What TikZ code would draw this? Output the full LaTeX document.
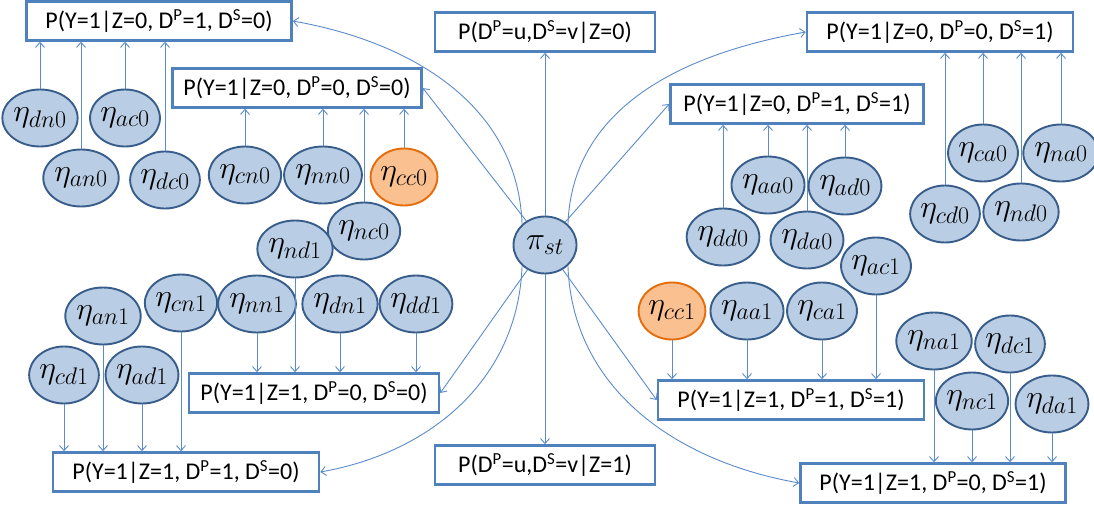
\RequirePackage{fix-cm}
\documentclass[tikz,border=0pt]{standalone}
\usepackage[no-math]{fontspec}
\setmainfont{Carlito}
\usetikzlibrary{shapes.geometric,arrows.meta}
\DeclareMathSizes{32}{32}{24}{18}
\definecolor{boxblue}{HTML}{4F81BD}
\definecolor{etafill}{HTML}{B9CDE5}
\definecolor{etaline}{HTML}{385D8A}
\definecolor{orfill}{HTML}{FAC090}
\definecolor{orline}{HTML}{E46C0A}
\definecolor{arrblue}{HTML}{5B8BCB}
\newcommand\DP{D\textsuperscript{P}}
\newcommand\DS{D\textsuperscript{S}}
\begin{document}
\begin{tikzpicture}[x=1pt,y=1pt,
  pbox/.style={draw=boxblue, line width=2.6pt, fill=white, inner xsep=1pt, inner ysep=0pt,
    minimum height=39pt, font=\fontsize{24}{28}\selectfont},
  eta/.style={ellipse, draw=etaline, line width=1.9pt, fill=etafill, minimum width=63pt,
    minimum height=57pt, inner sep=0pt, font=\fontsize{32}{32}\selectfont},
  etaor/.style={eta, draw=orline, fill=orfill},
  arr/.style={draw=arrblue, line width=0.9pt, -{Straight Barb[length=5pt,width=9pt]}}]
\useasboundingbox (0,0) rectangle (1094,507);

% boxes
\node[pbox, minimum width=265pt] (B1) at (159,486) {P(Y=1|Z=0, \DP=1, \DS=0)};
\node[pbox, minimum width=249pt] (B2) at (297,419) {P(Y=1|Z=0, \DP=0, \DS=0)};
\node[pbox, minimum width=220pt] (B3) at (545,475) {P(\DP=u,\DS=v|Z=0)};
\node[pbox, minimum width=266pt] (B4) at (940,475) {P(Y=1|Z=0, \DP=0, \DS=1)};
\node[pbox, minimum width=253pt] (B5) at (797,403) {P(Y=1|Z=0, \DP=1, \DS=1)};
\node[pbox, minimum width=250pt] (B6) at (314,114) {P(Y=1|Z=1, \DP=0, \DS=0)};
\node[pbox, minimum width=266pt] (B7) at (186,35) {P(Y=1|Z=1, \DP=1, \DS=0)};
\node[pbox, minimum width=220pt] (B8) at (545,42) {P(\DP=u,\DS=v|Z=1)};
\node[pbox, minimum width=266pt] (B9) at (791,107) {P(Y=1|Z=1, \DP=1, \DS=1)};
\node[pbox, minimum width=265pt] (B10) at (933,24) {P(Y=1|Z=1, \DP=0, \DS=1)};

% centre
\node[eta] (pi) at (545,262) {$\pi_{st}$};

% eta nodes, left
\node[eta] (dn0) at (40,389) {$\eta_{dn0}$};
\node[eta] (an0) at (81,329) {$\eta_{an0}$};
\node[eta] (ac0) at (125,389) {$\eta_{ac0}$};
\node[eta] (dc0) at (165,327) {$\eta_{dc0}$};
\node[eta] (cn0) at (245,332) {$\eta_{cn0}$};
\node[eta] (nn0) at (323,332) {$\eta_{nn0}$};
\node[etaor] (cc0) at (404,330) {$\eta_{cc0}$};
\node[eta] (nc0) at (364,276) {$\eta_{nc0}$};
\node[eta] (nd1) at (295,258) {$\eta_{nd1}$};
\node[eta] (nn1) at (257,203) {$\eta_{nn1}$};
\node[eta] (dn1) at (340,203) {$\eta_{dn1}$};
\node[eta] (dd1) at (416,203) {$\eta_{dd1}$};
\node[eta] (cn1) at (181,204) {$\eta_{cn1}$};
\node[eta] (an1) at (103,191) {$\eta_{an1}$};
\node[eta] (cd1) at (64,132) {$\eta_{cd1}$};
\node[eta] (ad1) at (142,132) {$\eta_{ad1}$};

% eta nodes, right
\node[eta] (aa0) at (768,322) {$\eta_{aa0}$};
\node[eta] (ad0) at (845,321) {$\eta_{ad0}$};
\node[eta] (dd0) at (723,270) {$\eta_{dd0}$};
\node[eta] (da0) at (807,267) {$\eta_{da0}$};
\node[eta] (ac1) at (876,241) {$\eta_{ac1}$};
\node[etaor] (cc1) at (672,196) {$\eta_{cc1}$};
\node[eta] (aa1) at (747,196) {$\eta_{aa1}$};
\node[eta] (ca1) at (822,196) {$\eta_{ca1}$};
\node[eta] (ca0) at (983,354) {$\eta_{ca0}$};
\node[eta] (na0) at (1061,354) {$\eta_{na0}$};
\node[eta] (cd0) at (945,293) {$\eta_{cd0}$};
\node[eta] (nd0) at (1021,295) {$\eta_{nd0}$};
\node[eta] (na1) at (934,166) {$\eta_{na1}$};
\node[eta] (dc1) at (1010,163) {$\eta_{dc1}$};
\node[eta] (nc1) at (972,106) {$\eta_{nc1}$};
\node[eta] (da1) at (1052,103) {$\eta_{da1}$};

% upward arrows
\foreach \e/\b in {dn0/B1,an0/B1,ac0/B1,dc0/B1,cn0/B2,nn0/B2,nc0/B2,cc0/B2,
                   dd0/B5,aa0/B5,da0/B5,ad0/B5,cd0/B4,ca0/B4,nd0/B4,na0/B4}
  \draw[arr] (\e.north) -- (\e.north |- \b.south);
% downward arrows
\foreach \e/\b in {nn1/B6,nd1/B6,dn1/B6,dd1/B6,cd1/B7,an1/B7,ad1/B7,cn1/B7,
                   cc1/B9,aa1/B9,ca1/B9,ac1/B9,na1/B10,nc1/B10,dc1/B10,da1/B10}
  \draw[arr] (\e.south) -- (\e.south |- \b.north);

% arrows from pi
\draw[arr] (pi) -- (B3.south);
\draw[arr] (pi) -- (B8.north);
\draw[arr] (pi) -- (B2.east);
\draw[arr] (pi) -- (B6.east);
\draw[arr] (pi) -- (B5.west);
\draw[arr] (pi) -- (B9.west);
\draw[arr] (pi.north west) to[out=92, in=-10] (B1.east);
\draw[arr] (pi.north east) to[out=88, in=190] (B4.west);
\draw[arr] (pi.south west) to[out=-92, in=10] (B7.east);
\draw[arr] (pi.south east) to[out=-88, in=170] (B10.west);
\end{tikzpicture}
\end{document}
